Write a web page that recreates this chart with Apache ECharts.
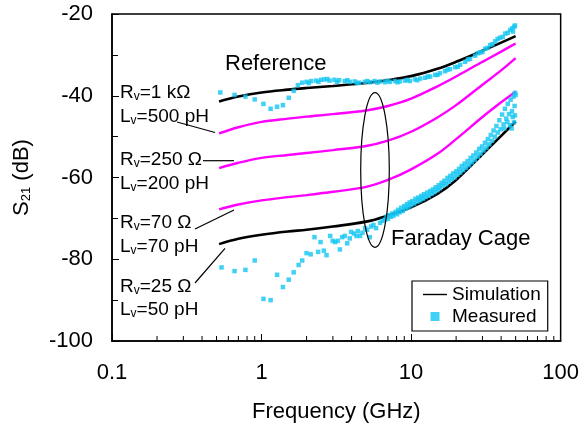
<!DOCTYPE html>
<html>
<head>
<meta charset="utf-8">
<script src="https://cdn.jsdelivr.net/npm/echarts@6/dist/echarts.min.js"></script>
<style>
html, body { margin: 0; padding: 0; background: #fff; }
#chart { width: 582px; height: 429px; }
</style>
</head>
<body>
<div id="chart"></div>
<script>
// simulated curves, all sampled at the same frequencies (GHz)
var freq = [0.52, 0.7, 1, 1.5, 2, 3, 5, 7, 10, 15, 20, 30, 40, 50];
var simReference = [-41.4, -40.2, -39.2, -38.5, -38.1, -37.6, -36.9, -36.2, -35.2, -33.4, -31.7, -29.0, -27.0, -25.4];
var sim1k = [-49.2, -47.7, -46.4, -45.6, -45.1, -44.5, -43.6, -42.5, -40.7, -37.7, -35.3, -31.7, -29.2, -27.2];
var sim250 = [-57.7, -56.4, -55.2, -54.5, -54.0, -53.3, -52.3, -51.0, -48.8, -45.3, -42.3, -37.3, -33.8, -30.8];
var sim70 = [-67.8, -66.6, -65.6, -64.8, -64.3, -63.5, -62.3, -60.6, -58.0, -54.2, -50.6, -45.2, -41.6, -39.0];
var simCage = [-76.3, -75.0, -74.0, -73.2, -72.8, -72.0, -70.8, -69.3, -67.3, -64.0, -60.6, -54.3, -49.8, -46.3];

// measured points [GHz, dB]
var measReference = [
  [0.53,-39.2],[0.66,-39.8],[0.78,-40.2],[0.9,-40.9],[1.03,-42.0],[1.15,-43.2],[1.27,-42.7],[1.39,-42.3],
  [1.52,-40.5],[1.64,-38.8],[1.75,-37.4],[1.87,-36.8],[2.0,-36.6],[2.07,-36.9],[2.15,-36.4],[2.32,-36.3],
  [2.4,-36.6],[2.5,-36.1],[2.63,-36.0],[2.75,-35.9],[2.85,-36.3],[3.07,-36.1],[3.2,-36.6],[3.3,-36.2],
  [3.6,-36.4],[3.75,-36.2],[3.9,-36.6],[4.2,-36.5],[4.35,-36.9],[4.5,-36.8],[4.9,-36.6],[5.1,-36.4],
  [5.3,-36.7],[5.7,-36.4],[5.95,-36.8],[6.2,-36.5],[6.7,-36.7],[6.95,-36.3],[7.2,-36.6],[7.8,-36.4],
  [8.1,-36.7],[8.4,-36.5],[9.1,-36.3],[9.45,-36.1],[9.8,-36.4],[10.6,-36.0],[11,-36.2],[11.5,-35.8],
  [12.4,-35.6],[12.9,-35.3],[13.4,-35.3],[14.5,-34.9],[15,-34.9],[15.6,-34.5],[16.9,-34.0],[17.5,-33.6],
  [18.2,-33.5],[19.7,-33.0],[20.5,-32.9],[21.3,-32.4],[23,-31.7],[24,-31.1],[24.8,-31.0],[26.8,-30.2],
  [27.9,-29.6],[29,-29.4],[30,-29.3],[31.3,-28.5],[32.5,-28.3],[33.8,-27.6],[35,-27.4],[36.5,-26.7],
  [37.9,-26.1],[39.4,-25.8],[41,-25.6],[42.6,-24.8],[44.3,-24.6],[46,-23.9],[47.5,-23.5],[48,-24.3],
  [49,-23.1],[49.5,-22.8]
];
var measCage = [
  [0.54,-82.0],[0.66,-82.9],[0.78,-82.6],[0.9,-80.3],[1.03,-89.7],[1.15,-90.0],[1.27,-83.8],[1.39,-86.8],
  [1.52,-85.0],[1.64,-83.2],[1.77,-81.4],[1.87,-80.3],[2.0,-78.5],[2.13,-78.8],[2.26,-74.6],[2.39,-78.2],
  [2.48,-75.8],[2.61,-77.9],[2.72,-79.0],[2.88,-74.3],[2.99,-75.5],[3.1,-75.8],[3.23,-75.5],[3.34,-77.6],
  [3.46,-74.6],[3.6,-74.3],[3.74,-76.1],[3.89,-74.9],[3.97,-73.3],[4.14,-73.7],[4.31,-74.3],[4.4,-73.1],
  [4.56,-74.3],[4.73,-73.5],[4.93,-72.4],[5.08,-72.8],[5.29,-74.6],[5.4,-72.0],[5.6,-71.6],[5.83,-72.4],
  [6.2,-71.1],[6.45,-70.6],[6.7,-70.3],[6.85,-69.6],[7.0,-70.1],[7.15,-69.2],[7.3,-69.6],[7.5,-68.8],
  [7.6,-69.4],[7.9,-68.4],[8.05,-69.0],[8.2,-67.9],[8.4,-68.5],[8.6,-67.4],[8.8,-68.2],[9.0,-67.0],
  [9.2,-67.6],[9.4,-66.5],[9.6,-67.3],[9.8,-66.1],[10.0,-66.8],[10.2,-65.8],[10.5,-66.4],[10.7,-65.2],
  [11.0,-65.9],[11.2,-64.9],[11.5,-65.6],[11.7,-64.5],[12.0,-65.2],[12.2,-64.1],[12.5,-64.8],[12.8,-63.7],
  [13.1,-64.5],[13.4,-63.3],[13.7,-64.0],[14.0,-62.9],[14.3,-63.6],[14.6,-62.4],[15.0,-63.1],[15.3,-61.9],
  [15.6,-62.6],[16.0,-61.3],[16.3,-62.0],[16.7,-60.8],[17.1,-61.6],[17.5,-60.1],[17.9,-61.0],[18.3,-59.6],
  [18.7,-60.4],[19.1,-59.0],[19.5,-60.0],[20.0,-58.5],[20.4,-59.3],[20.9,-57.9],[21.3,-58.8],[21.8,-57.2],
  [22.3,-58.2],[22.8,-56.6],[23.3,-57.6],[23.9,-56.0],[24.4,-57.0],[25.0,-55.2],[25.5,-56.3],[26.1,-54.6],
  [26.7,-55.7],[27.3,-53.9],[27.9,-54.9],[28.5,-53.0],[29.1,-54.2],[29.8,-52.4],[30.5,-53.4],[31.2,-51.5],
  [31.9,-52.7],[32.6,-50.6],[33.3,-51.9],[34.1,-49.6],[34.8,-51.0],[35.6,-48.5],[36.4,-50.0],[37.2,-47.4],
  [38.0,-49.0],[38.9,-46.0],[39.7,-48.2],[40.6,-44.6],[41.5,-47.0],[42.0,-48.0],[42.4,-43.2],[43.3,-45.6],
  [44.0,-46.4],[44.3,-42.0],[45.2,-44.5],[45.8,-47.2],[46.3,-41.0],[47.0,-48.0],[47.3,-43.8],[47.8,-45.2],
  [48.4,-40.2],[48.8,-46.5],[49.2,-42.5],[49.5,-39.3],[49.5,-44.8],[50,-39.8]
];

// log axis minor ticks (2..9 per decade)
var minorTicks = [0.2,0.3,0.4,0.5,0.6,0.7,0.8,0.9,2,3,4,5,6,7,8,9,20,30,40,50,60,70,80,90];

var FONT = "'Liberation Sans', Arial, sans-serif";

function pairs(ys) {
  return freq.map(function (f, i) { return [f, ys[i]]; });
}

function subText(x, y, main, rest) {
  return {
    type: 'text', x: x, y: y, z: 100,
    style: {
      text: '{m|' + main + '}{s|v}{m|' + rest + '}',
      verticalAlign: 'middle', align: 'left',
      rich: {
        m: { fontSize: 19, fontFamily: FONT, fill: '#000' },
        s: { fontSize: 12, fontFamily: FONT, fill: '#000', padding: [8, 0, 0, 0] }
      }
    }
  };
}

function leader(x1, y1, x2, y2) {
  return {
    type: 'line', z: 100,
    shape: { x1: x1, y1: y1, x2: x2, y2: y2 },
    style: { stroke: '#000', lineWidth: 1.2 }
  };
}

var dom = document.getElementById('chart');
var myChart = echarts.init(dom);

var option = {
  animation: false,
  backgroundColor: '#fff',
  textStyle: { fontFamily: FONT },
  grid: {
    left: 112, top: 14, right: 21, bottom: 88,
    show: true, borderColor: '#000', borderWidth: 1.5
  },
  legend: {
    left: 412, top: 281,
    orient: 'vertical',
    padding: [4, 7, 5, 11],
    itemGap: 3,
    itemWidth: 24,
    itemHeight: 9,
    borderColor: '#000',
    borderWidth: 1.2,
    textStyle: { fontSize: 19, color: '#000', fontFamily: FONT, lineHeight: 19 },
    data: [
      { name: 'Simulation', icon: 'path://M0,0H24V1.4H0Z' },
      { name: 'Measured', icon: 'path://M0,0H1V1H0Z' }
    ]
  },
  xAxis: {
    type: 'log',
    logBase: 10,
    min: 0.1,
    max: 100,
    name: 'Frequency (GHz)',
    nameLocation: 'middle',
    nameGap: 60,
    nameTextStyle: { fontSize: 22, color: '#000', fontFamily: FONT },
    axisLine: { lineStyle: { color: '#000', width: 1.5 } },
    axisTick: { inside: true, length: 7, lineStyle: { color: '#000', width: 1 } },
    axisLabel: { fontSize: 22, color: '#000', margin: 21, fontFamily: FONT },
    splitLine: { show: false }
  },
  yAxis: {
    type: 'value',
    min: -100,
    max: -20,
    interval: 20,
    name: '{a|S}{b|21}{a| (dB)}',
    nameLocation: 'middle',
    nameGap: 79,
    nameTextStyle: {
      color: '#000',
      rich: {
        a: { fontSize: 22, fontFamily: FONT, color: '#000' },
        b: { fontSize: 13, fontFamily: FONT, color: '#000', padding: [9, 0, 0, 0] }
      }
    },
    axisLine: { lineStyle: { color: '#000', width: 1.5 } },
    axisTick: { inside: true, length: 7, lineStyle: { color: '#000', width: 1 } },
    minorTick: { show: true, splitNumber: 2, length: 6, lineStyle: { color: '#000', width: 1 } },
    axisLabel: { fontSize: 22, color: '#000', margin: 19, fontFamily: FONT },
    splitLine: { show: false }
  },
  graphic: [
    { type: 'text', x: 225, y: 64, z: 100,
      style: { text: 'Reference', fontSize: 22, fontFamily: FONT, fill: '#000', verticalAlign: 'middle' } },
    { type: 'text', x: 391, y: 239, z: 100,
      style: { text: 'Faraday Cage', fontSize: 22, fontFamily: FONT, fill: '#000', verticalAlign: 'middle' } },
    subText(120, 93, 'R', '=1 kΩ'),
    subText(120, 117, 'L', '=500 pH'),
    subText(120, 160, 'R', '=250 Ω'),
    subText(120, 184, 'L', '=200 pH'),
    subText(120, 223, 'R', '=70 Ω'),
    subText(120, 247, 'L', '=70 pH'),
    subText(120, 287, 'R', '=25 Ω'),
    subText(120, 310, 'L', '=50 pH'),
    leader(177, 122, 215, 132.5),
    leader(203, 160.7, 234, 160.7),
    leader(195, 229, 234, 210),
    leader(195, 283, 225, 248.3),
    { type: 'ellipse', z: 100,
      shape: { cx: 375, cy: 170, rx: 14.3, ry: 77.3 },
      style: { fill: null, stroke: '#000', lineWidth: 1.2 } }
  ],
  series: [
    { name: 'Simulation', type: 'line', data: pairs(simReference), smooth: 0.35, symbol: 'none',
      lineStyle: { color: '#000', width: 2.6 }, itemStyle: { color: '#000' }, z: 3 },
    { name: 'Rv=1 kΩ', type: 'line', data: pairs(sim1k), smooth: 0.35, symbol: 'none',
      lineStyle: { color: '#ff00ff', width: 2.4 }, itemStyle: { color: '#ff00ff' }, z: 3 },
    { name: 'Rv=250 Ω', type: 'line', data: pairs(sim250), smooth: 0.35, symbol: 'none',
      lineStyle: { color: '#ff00ff', width: 2.4 }, itemStyle: { color: '#ff00ff' }, z: 3 },
    { name: 'Rv=70 Ω', type: 'line', data: pairs(sim70), smooth: 0.35, symbol: 'none',
      lineStyle: { color: '#ff00ff', width: 2.4 }, itemStyle: { color: '#ff00ff' }, z: 3 },
    { name: 'Simulation', type: 'line', data: pairs(simCage), smooth: 0.35, symbol: 'none',
      lineStyle: { color: '#000', width: 2.6 }, itemStyle: { color: '#000' }, z: 3 },
    { name: 'Measured', type: 'scatter', data: measReference, symbol: 'rect', symbolSize: 4.5,
      itemStyle: { color: '#12c5f2' }, z: 4 },
    { name: 'Measured', type: 'scatter', data: measCage, symbol: 'rect', symbolSize: 4.5,
      itemStyle: { color: '#12c5f2' }, z: 4 },
    { name: 'ticks', type: 'custom', silent: true, clip: false, z: 5,
      data: minorTicks.map(function (f) { return [f, -100]; }),
      renderItem: function (params, api) {
        var p = api.coord([api.value(0), api.value(1)]);
        return {
          type: 'line',
          shape: { x1: p[0], y1: p[1], x2: p[0], y2: p[1] - 5 },
          style: { stroke: '#000', lineWidth: 1 }
        };
      }
    }
  ]
};

if (option && typeof option === 'object') {
  myChart.setOption(option, true);
}
</script>
</body>
</html>
